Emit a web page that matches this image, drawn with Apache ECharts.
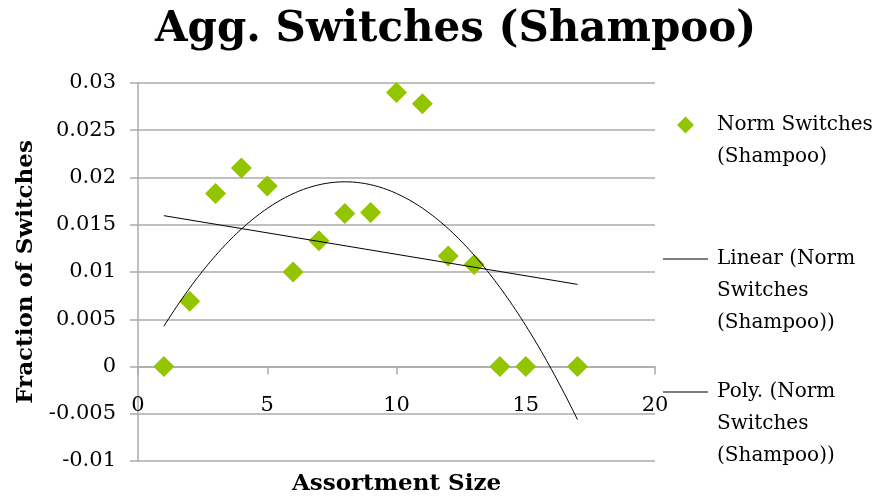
<!DOCTYPE html>
<html>
<head>
<meta charset="utf-8">
<script src="https://cdn.jsdelivr.net/npm/echarts@6/dist/echarts.min.js"></script>
<style>
  html, body { margin: 0; padding: 0; background: #fff; }
  #chart { width: 896px; height: 497px; }
</style>
</head>
<body>
<div id="chart"></div>
<script>
// Assortment sizes and normalised switch fractions for shampoo
const assortmentSize = [1, 2, 3, 4, 5, 6, 7, 8, 9, 10, 11, 12, 13, 14, 15, 17];
const normSwitches = [0, 0.0069, 0.0183, 0.0210, 0.0191, 0.0100, 0.0133, 0.0162,
                      0.0163, 0.0290, 0.0278, 0.0117, 0.0108, 0, 0, 0];

const yTicks = { min: -0.01, max: 0.03, interval: 0.005 };
const xTicks = { min: 0, max: 20, interval: 5 };

const seriesNames = ['Norm Switches (Shampoo)',
                     'Linear (Norm Switches (Shampoo))',
                     'Poly. (Norm Switches (Shampoo))'];
// Legend labels wrap onto several lines; leading blank lines keep the
// first line level with the legend key.
const legendLines = {
  'Norm Switches (Shampoo)': '\nNorm Switches\n(Shampoo)',
  'Linear (Norm Switches (Shampoo))': '\n\nLinear (Norm\nSwitches\n(Shampoo))',
  'Poly. (Norm Switches (Shampoo))': '\n\nPoly. (Norm\nSwitches\n(Shampoo))'
};

// Least-squares polynomial fit of given degree (normal equations)
function polyFit(xs, ys, degree) {
  const n = degree + 1;
  const A = [];
  for (let r = 0; r < n; r++) {
    const row = [];
    for (let c = 0; c < n; c++) {
      let s = 0;
      for (let i = 0; i < xs.length; i++) s += Math.pow(xs[i], r + c);
      row.push(s);
    }
    let b = 0;
    for (let i = 0; i < xs.length; i++) b += ys[i] * Math.pow(xs[i], r);
    row.push(b);
    A.push(row);
  }
  for (let p = 0; p < n; p++) {
    let best = p;
    for (let r = p + 1; r < n; r++) if (Math.abs(A[r][p]) > Math.abs(A[best][p])) best = r;
    [A[p], A[best]] = [A[best], A[p]];
    for (let r = 0; r < n; r++) {
      if (r === p) continue;
      const f = A[r][p] / A[p][p];
      for (let c = p; c <= n; c++) A[r][c] -= f * A[p][c];
    }
  }
  return A.map((row, i) => row[n] / row[i]);
}
function evalPoly(coef, x) {
  return coef.reduce((s, c, i) => s + c * Math.pow(x, i), 0);
}

const xFirst = assortmentSize[0];
const xLast = assortmentSize[assortmentSize.length - 1];
const linCoef = polyFit(assortmentSize, normSwitches, 1);
const quadCoef = polyFit(assortmentSize, normSwitches, 2);

const linearLine = [xFirst, xLast].map(x => [x, evalPoly(linCoef, x)]);
const polyLine = [];
for (let k = 0; k <= 160; k++) {
  const x = xFirst + (xLast - xFirst) * k / 160;
  polyLine.push([x, evalPoly(quadCoef, x)]);
}

const FONT = 'DejaVu Serif';
const GREEN = '#92C400';
const GRID_GREY = '#ababab';

const legendText = (padLeft) => ({
  fontFamily: FONT, fontSize: 20, color: '#000', lineHeight: 32,
  padding: [0, 0, 0, padLeft]
});

const chart = echarts.init(document.getElementById('chart'), null, { renderer: 'canvas' });
chart.setOption({
  animation: false,
  backgroundColor: '#fff',
  title: {
    text: 'Agg. Switches (Shampoo)',
    left: 150, top: 4,
    textStyle: { fontFamily: FONT, fontWeight: 'bold', fontSize: 42, color: '#000' }
  },
  grid: {
    left: 138, right: 896 - 655, top: 83, bottom: 497 - 461,
    containLabel: false, outerBoundsMode: 'none'
  },
  xAxis: {
    type: 'value',
    min: xTicks.min, max: xTicks.max, interval: xTicks.interval,
    name: 'Assortment Size',
    nameLocation: 'middle',
    nameGap: 12,
    nameTextStyle: { fontFamily: FONT, fontWeight: 'bold', fontSize: 23, color: '#000' },
    axisLine: { onZero: true, lineStyle: { color: GRID_GREY, width: 1.5 } },
    axisTick: { show: true, length: 8, lineStyle: { color: GRID_GREY, width: 1.5 } },
    // tick labels sit just under the zero line rather than at the plot's bottom edge
    axisLabel: { margin: -66, fontFamily: FONT, fontSize: 21, color: '#000' },
    splitLine: { show: false }
  },
  yAxis: {
    type: 'value',
    min: yTicks.min, max: yTicks.max, interval: yTicks.interval,
    name: 'Fraction of Switches',
    nameLocation: 'middle',
    nameGap: 100,
    nameTextStyle: { fontFamily: FONT, fontWeight: 'bold', fontSize: 23, color: '#000' },
    axisLine: { show: true, onZero: false, lineStyle: { color: GRID_GREY, width: 1.5 } },
    axisTick: { show: true, length: 8, lineStyle: { color: GRID_GREY, width: 1.5 } },
    axisLabel: { margin: 22, fontFamily: FONT, fontSize: 21, color: '#000' },
    splitLine: { show: true, lineStyle: { color: GRID_GREY, width: 1.5 } }
  },
  legend: [
    {
      data: [seriesNames[0]], orient: 'vertical', left: 677, top: 77, padding: 0,
      selectedMode: false, icon: 'diamond', itemWidth: 17, itemHeight: 17,
      formatter: n => legendLines[n],
      textStyle: legendText(18)
    },
    {
      data: [seriesNames[1]], orient: 'vertical', left: 663, top: 179, padding: 0,
      selectedMode: false, icon: 'rect', itemWidth: 45, itemHeight: 1,
      itemStyle: { color: '#000' },
      formatter: n => legendLines[n],
      textStyle: legendText(4)
    },
    {
      data: [seriesNames[2]], orient: 'vertical', left: 663, top: 312, padding: 0,
      selectedMode: false, icon: 'rect', itemWidth: 45, itemHeight: 1,
      itemStyle: { color: '#000' },
      formatter: n => legendLines[n],
      textStyle: legendText(4)
    }
  ],
  series: [
    {
      name: seriesNames[0],
      type: 'scatter',
      symbol: 'diamond',
      symbolSize: 21,
      itemStyle: { color: GREEN, opacity: 1 },
      data: assortmentSize.map((x, i) => [x, normSwitches[i]]),
      z: 3
    },
    {
      name: seriesNames[1],
      type: 'line',
      symbol: 'none',
      lineStyle: { color: '#000', width: 1 },
      itemStyle: { color: '#000' },
      data: linearLine,
      z: 4
    },
    {
      name: seriesNames[2],
      type: 'line',
      symbol: 'none',
      lineStyle: { color: '#000', width: 1 },
      itemStyle: { color: '#000' },
      data: polyLine,
      z: 4
    }
  ]
});
</script>
</body>
</html>
